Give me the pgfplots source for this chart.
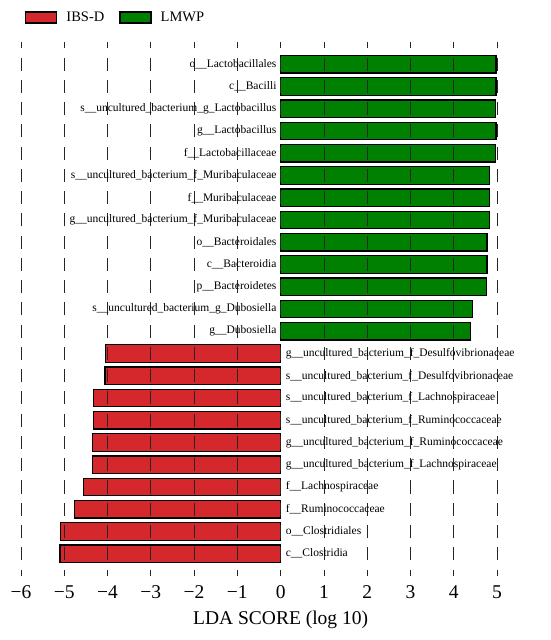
\documentclass[border=0pt]{standalone}
\usepackage{fontspec}
\setmainfont{Liberation Serif}
\usepackage{pgfplots}
\usepackage{pgfplotstable}
\pgfplotsset{compat=1.18}
\definecolor{ibsred}{RGB}{212,40,44}
\definecolor{lmgreen}{RGB}{0,128,0}

\pgfplotstableread{
y val label
22 4.98 o\_\_Lactobacillales
21 4.98 c\_\_Bacilli
20 4.97 s\_\_uncultured\_bacterium\_g\_Lactobacillus
19 4.98 g\_\_Lactobacillus
18 4.97 f\_\_Lactobacillaceae
17 4.83 s\_\_uncultured\_bacterium\_f\_Muribaculaceae
16 4.82 f\_\_Muribaculaceae
15 4.82 g\_\_uncultured\_bacterium\_f\_Muribaculaceae
14 4.77 o\_\_Bacteroidales
13 4.77 c\_\_Bacteroidia
12 4.75 p\_\_Bacteroidetes
11 4.44 s\_\_uncultured\_bacterium\_g\_Dubosiella
10 4.38 g\_\_Dubosiella
}\greendata

\pgfplotstableread{
y val label
9 -4.04 g\_\_uncultured\_bacterium\_f\_Desulfovibrionaceae
8 -4.06 s\_\_uncultured\_bacterium\_f\_Desulfovibrionaceae
7 -4.32 s\_\_uncultured\_bacterium\_f\_Lachnospiraceae
6 -4.33 s\_\_uncultured\_bacterium\_f\_Ruminococcaceae
5 -4.34 g\_\_uncultured\_bacterium\_f\_Ruminococcaceae
4 -4.35 g\_\_uncultured\_bacterium\_f\_Lachnospiraceae
3 -4.55 f\_\_Lachnospiraceae
2 -4.77 f\_\_Ruminococcaceae
1 -5.08 o\_\_Clostridiales
0 -5.10 c\_\_Clostridia
}\reddata

\begin{document}
\begin{tikzpicture}
\useasboundingbox (-21pt,-64pt) rectangle (529pt,576pt);
\begin{axis}[
  at={(0pt,0pt)}, anchor=south west,
  scale only axis, width=476pt, height=534pt,
  xmin=-6, xmax=5, ymin=-1, ymax=23,
  axis line style={draw=none},
  major tick length=0pt,
  xtick={-6,-5,-4,-3,-2,-1,0,1,2,3,4,5},
  xticklabels={−6,−5,−4,−3,−2,−1,0,1,2,3,4,5},
  ytick=\empty,
  xmajorgrids,
  major grid style={black!85, line width=0.8pt, dash pattern=on 13pt off 9.25pt, dash phase=6.5pt},
  axis on top,
  xticklabel style={font=\fontsize{19.5}{22}\selectfont, anchor=center, yshift=-16pt},
  xlabel={LDA SCORE (log 10)},
  xlabel style={font=\fontsize{19.5}{22}\selectfont, at={(axis description cs:0.54545,0)}, anchor=center, yshift=-44pt},
  legend columns=2,
  legend style={at={(axis description cs:0,1)}, anchor=west, xshift=1pt, yshift=24.5pt,
    draw=none, fill=none, font=\fontsize{14.5}{16}\selectfont,
    /tikz/every odd column/.append style={column sep=7pt},
    /tikz/every even column/.append style={column sep=13pt}},
  legend image code/.code={\draw[#1] (0pt,-5.5pt) rectangle (31pt,5.5pt);},
]
\addplot[xbar, bar width=0.78, bar shift=0pt, fill=ibsred, draw=black, line width=1.3pt]
  table[x=val, y=y] {\reddata};
\addlegendentry{IBS-D}
\addplot[xbar, bar width=0.78, bar shift=0pt, fill=lmgreen, draw=black, line width=1.3pt]
  table[x=val, y=y] {\greendata};
\addlegendentry{LMWP}
\addplot[forget plot, draw=none, mark=none, nodes near coords, point meta=explicit symbolic,
  every node near coord/.append style={anchor=east, xshift=-3pt, inner sep=1pt, font=\fontsize{11.5}{13}\selectfont, text=black}]
  table[x expr=0, y=y, meta=label] {\greendata};
\addplot[forget plot, draw=none, mark=none, nodes near coords, point meta=explicit symbolic,
  every node near coord/.append style={anchor=west, xshift=4pt, inner sep=1pt, font=\fontsize{11.5}{13}\selectfont, text=black}]
  table[x expr=0, y=y, meta=label] {\reddata};
\end{axis}
\end{tikzpicture}
\end{document}
